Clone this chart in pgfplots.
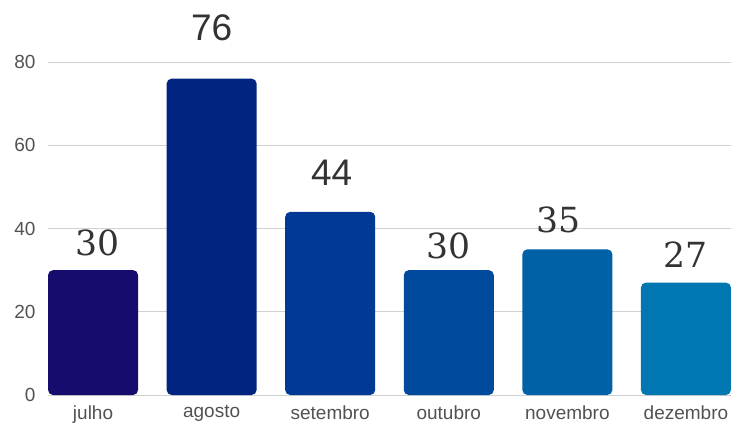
\documentclass[border=0pt]{standalone}
\usepackage{pgfplots}
\pgfplotsset{compat=1.18}
\usepackage{fontspec}
\setmainfont{Liberation Sans}
\newfontfamily\dvs{DejaVu Serif}
\definecolor{c1}{RGB}{22,12,110}
\definecolor{c2}{RGB}{0,36,127}
\definecolor{c3}{RGB}{0,58,150}
\definecolor{c4}{RGB}{0,74,158}
\definecolor{c5}{RGB}{0,97,167}
\definecolor{c6}{RGB}{0,119,176}
\definecolor{lab}{RGB}{51,51,51}
\begin{document}
\begin{tikzpicture}
\path[use as bounding box] (-48pt,-34pt) rectangle (683pt,395pt);
\begin{axis}[
  scale only axis, width=683pt, height=333pt,
  xmin=-0.38, xmax=5.38, ymin=0, ymax=80,
  ytick={0,20,40,60,80},
  xtick={0,1,2,3,4,5},
  xticklabels={julho,agosto,setembro,outubro,novembro,dezembro},
  axis line style={draw=none},
  major tick length=0pt,
  ymajorgrids, grid style={draw=black!18, line width=0.8pt},
  ybar, bar width=90pt, bar shift=0pt,
  clip=false,
  /pgf/number format/assume math mode=true,
  tick label style={font=\fontsize{19}{20}\selectfont, text=black!68},
  yticklabel style={xshift=-9pt},
  xticklabel style={yshift=-7pt},
  nodes near coords,
  every node near coord/.append style={anchor=base, text=lab, inner sep=0pt},
]
\addplot[fill=c1, draw=none, rounded corners=5pt,
  every node near coord/.append style={yshift=15pt, xshift=4pt, font=\dvs\fontsize{34.6}{36}\selectfont}]
  coordinates {(0,30)};
\addplot[fill=c2, draw=none, rounded corners=5pt,
  every node near coord/.append style={yshift=38.6pt, font=\fontsize{37}{40}\selectfont}]
  coordinates {(1,76)};
\addplot[fill=c3, draw=none, rounded corners=5pt,
  every node near coord/.append style={yshift=26.8pt, xshift=1.5pt, font=\fontsize{37}{40}\selectfont}]
  coordinates {(2,44)};
\addplot[fill=c4, draw=none, rounded corners=5pt,
  every node near coord/.append style={yshift=12pt, font=\dvs\fontsize{34.6}{36}\selectfont}]
  coordinates {(3,30)};
\addplot[fill=c5, draw=none, rounded corners=5pt,
  every node near coord/.append style={yshift=17.3pt, xshift=-9pt, font=\dvs\fontsize{34.6}{36}\selectfont}]
  coordinates {(4,35)};
\addplot[fill=c6, draw=none, rounded corners=5pt,
  every node near coord/.append style={yshift=15.6pt, font=\dvs\fontsize{34.6}{36}\selectfont}]
  coordinates {(5,27)};
\end{axis}
\end{tikzpicture}
\end{document}
